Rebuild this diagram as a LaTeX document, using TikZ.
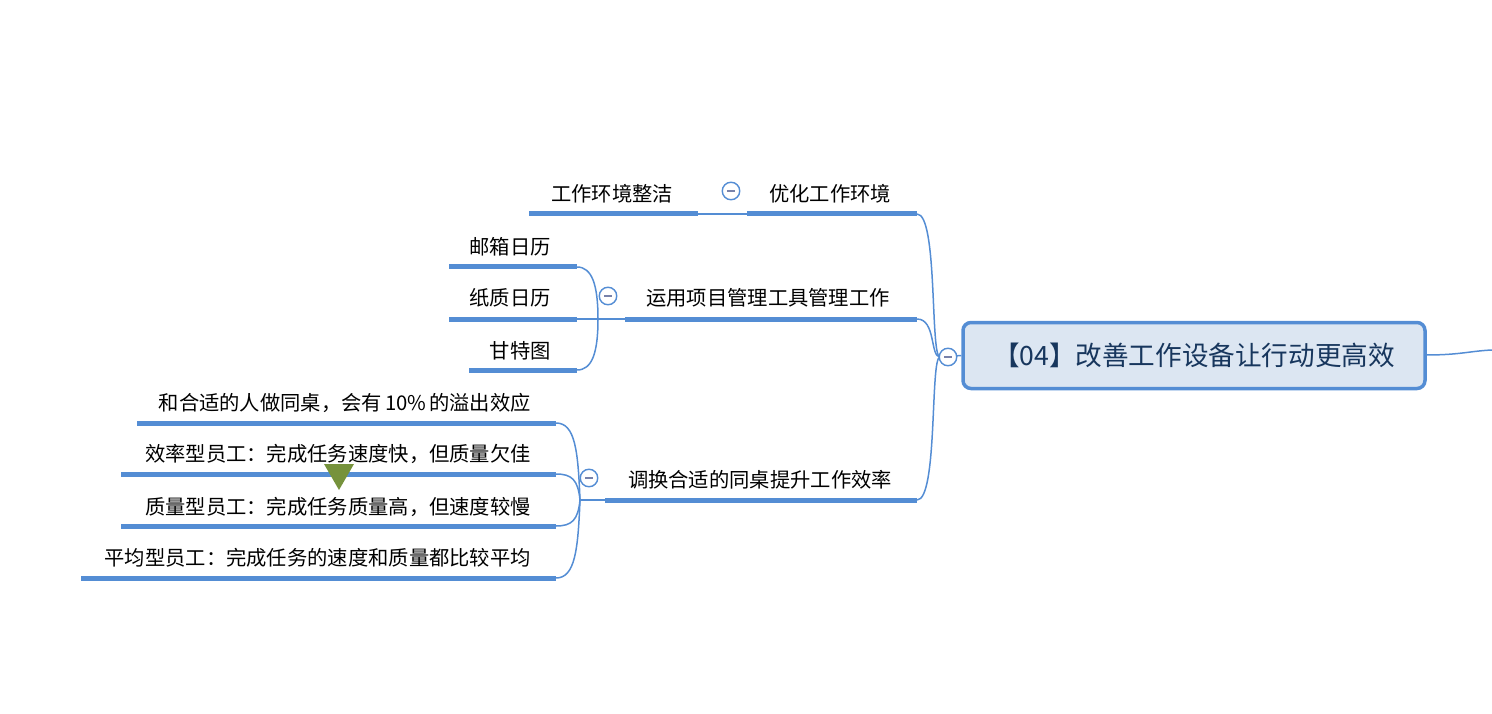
\documentclass[tikz,border=0pt]{standalone}
\usepackage{fontspec}
\setmainfont{Noto Sans CJK SC}
\definecolor{lineblue}{RGB}{84,141,212}
\definecolor{rootfill}{RGB}{220,230,242}
\definecolor{roottext}{RGB}{23,54,93}
\definecolor{tri}{RGB}{118,146,60}
\definecolor{dashc}{RGB}{120,130,170}
\begin{document}
\begin{tikzpicture}[x=1pt,y=-1pt,
  lbl/.style={inner sep=0pt,font=\fontsize{20.3}{20.3}\selectfont,text=black},
  uline/.style={draw=lineblue,line width=5pt},
  conn/.style={draw=lineblue,line width=1.5pt},
  root/.style={draw=lineblue,line width=3.5pt,fill=rootfill,rounded corners=8pt,minimum width=462pt,minimum height=66pt,font=\fontsize{26.6}{26.6}\selectfont,text=roottext,inner sep=0pt},
  collapse/.style={circle,draw=lineblue,line width=1.4pt,fill=white,minimum size=17.5pt,inner sep=0pt}]
\useasboundingbox (0,0) rectangle (1492,714);

% root
\node[root] (root) at (1194,355.5) {【04】改善工作设备让行动更高效};
\coordinate (rootR) at (1426,355);
\coordinate (offR) at (1492,350);
\draw[conn] (rootR) .. controls (1460,355) and (1470,351) .. (offR);
\coordinate (hub) at (940,357);

% child 1
\coordinate (c1R) at (917,214);
\coordinate (c1L) at (747,214);
\draw[uline] (c1L) -- (c1R);
\node[lbl] (c1) at (830,193.5) {优化工作环境};
\coordinate (g1R) at (698,214);
\coordinate (g1L) at (529,214);
\draw[uline] (g1L) -- (g1R);
\node[lbl] (g1) at (612,193.5) {工作环境整洁};
\draw[conn] (c1L) -- (g1R);

% child 2
\coordinate (c2R) at (917,319);
\coordinate (c2L) at (625,319);
\draw[uline] (c2L) -- (c2R);
\node[lbl] (c2) at (768,297.5) {运用项目管理工具管理工作};
\coordinate (j2) at (598,319);
\draw[conn] (c2L) -- (j2);
\coordinate (g21R) at (577,267);
\coordinate (g21L) at (449,267);
\coordinate (g22R) at (577,319);
\coordinate (g22L) at (449,319);
\coordinate (g23R) at (577,370);
\coordinate (g23L) at (469,370);
\draw[uline] (g21L) -- (g21R);
\draw[uline] (g22L) -- (g22R);
\draw[uline] (g23L) -- (g23R);
\node[lbl,anchor=east] (g21) at (551,246.5) {邮箱日历};
\node[lbl,anchor=east] (g22) at (551,297.5) {纸质日历};
\node[lbl,anchor=east] (g23) at (551,350.5) {甘特图};
\draw[conn] (j2) .. controls (598,285) and (592,267) .. (g21R);
\draw[conn] (j2) -- (g22R);
\draw[conn] (j2) .. controls (598,353) and (592,370) .. (g23R);

% child 3
\coordinate (c3R) at (917,500);
\coordinate (c3L) at (605,500);
\draw[uline] (c3L) -- (c3R);
\node[lbl] (c3) at (760,479.5) {调换合适的同桌提升工作效率};
\coordinate (j3) at (580,500);
\draw[conn] (c3L) -- (j3);
\coordinate (g31R) at (556,423);
\coordinate (g31L) at (137,423);
\coordinate (g32R) at (556,474);
\coordinate (g32L) at (121,474);
\coordinate (g33R) at (556,526);
\coordinate (g33L) at (121,526);
\coordinate (g34R) at (556,578);
\coordinate (g34L) at (81,578);
\draw[uline] (g31L) -- (g31R);
\draw[uline] (g32L) -- (g32R);
\draw[uline] (g33L) -- (g33R);
\draw[uline] (g34L) -- (g34R);
\node[lbl,anchor=east] (g31) at (531,402.5) {和合适的人做同桌，会有\hspace{3pt}10\%\hspace{3pt}的溢出效应};
\node[lbl,anchor=east] (g32) at (531,453.5) {效率型员工：完成任务速度快，但质量欠佳};
\node[lbl,anchor=east] (g33) at (531,506.5) {质量型员工：完成任务质量高，但速度较慢};
\node[lbl,anchor=east] (g34) at (531,557.5) {平均型员工：完成任务的速度和质量都比较平均};
\draw[conn] (j3) .. controls (578,450) and (575,423) .. (g31R);
\draw[conn] (j3) .. controls (578,480) and (572,474) .. (g32R);
\draw[conn] (j3) .. controls (578,520) and (572,526) .. (g33R);
\draw[conn] (j3) .. controls (578,550) and (575,578) .. (g34R);

% hub connectors
\draw[conn] (hub) .. controls (930,357) and (938,214) .. (c1R);
\draw[conn] (hub) .. controls (930,357) and (936,319) .. (c2R);
\draw[conn] (hub) .. controls (930,357) and (938,500) .. (c3R);
\draw[conn] (hub) -- (root.west);

% collapse markers
\foreach \n/\p in {k0/{(948,357)},k1/{(731,191)},k2/{(608,296)},k3/{(589,478)}}{
  \node[collapse] (\n) at \p {};
  \draw[dashc,line width=1.4pt] ([xshift=-4pt]\n.center) -- ([xshift=4pt]\n.center);
}

% green triangle
\coordinate (t1) at (324,464);
\coordinate (t2) at (354,464);
\coordinate (t3) at (339,490);
\fill[tri] (t1) -- (t2) -- (t3) -- cycle;
\end{tikzpicture}
\end{document}
